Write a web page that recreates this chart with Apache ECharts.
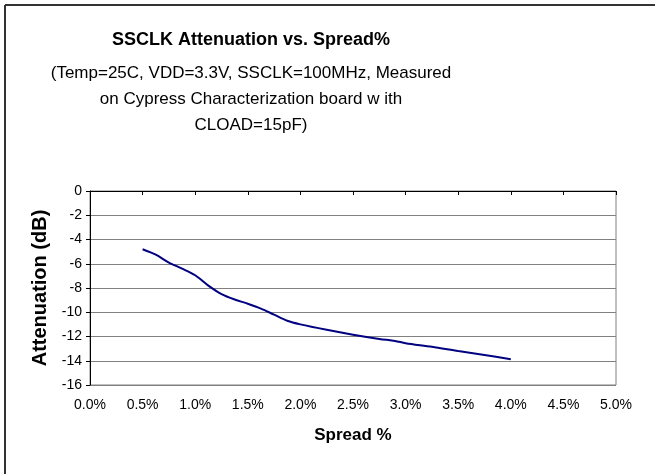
<!DOCTYPE html>
<html>
<head>
<meta charset="utf-8">
<script src="https://cdn.jsdelivr.net/npm/echarts@6/dist/echarts.min.js"></script>
<style>
html,body{margin:0;padding:0;background:#fff;}
#c{width:655px;height:474px;}
</style>
</head>
<body>
<div id="c"></div>
<script>
const titleText = 'SSCLK Attenuation vs. Spread%';
const subtitleLines = [
  '(Temp=25C, VDD=3.3V, SSCLK=100MHz, Measured',
  'on Cypress Characterization board w ith',
  'CLOAD=15pF)'
];
const xAxisName = 'Spread %';
const yAxisName = 'Attenuation (dB)';
const spread = [0.5, 0.625, 0.75, 0.875, 1.0, 1.125, 1.25, 1.375, 1.5, 1.625, 1.75, 1.875, 2.0, 2.25, 2.5, 2.75, 2.9, 3.0, 3.25, 3.5, 3.75, 4.0];
const attenuation = [-4.8, -5.25, -5.9, -6.4, -6.95, -7.8, -8.5, -8.95, -9.3, -9.7, -10.2, -10.7, -11.0, -11.45, -11.85, -12.2, -12.37, -12.55, -12.85, -13.2, -13.53, -13.87];

const chart = echarts.init(document.getElementById('c'));
const font = 'Liberation Sans, Arial, sans-serif';
const graphics = [
  {type:'line', shape:{x1:5, y1:5, x2:655, y2:5}, style:{stroke:'#333', lineWidth:2}},
  {type:'line', shape:{x1:5, y1:5, x2:5, y2:474}, style:{stroke:'#333', lineWidth:2}},
  {type:'text', x:251, y:40, style:{text:titleText, font:'bold 18px ' + font, fill:'#000', textAlign:'center', textVerticalAlign:'middle'}}
];
subtitleLines.forEach(function(t, i){
  graphics.push({type:'text', x:251, y:73 + i*26, style:{text:t, font:'17px ' + font, fill:'#000', textAlign:'center', textVerticalAlign:'middle'}});
});

chart.setOption({
  animation:false,
  backgroundColor:'#fff',
  graphic: graphics,
  grid:{left:90, top:191, width:526, height:194, show:true, borderColor:'#808080', borderWidth:1, backgroundColor:'transparent'},
  xAxis:[{
    type:'value', min:0, max:5, interval:0.5, position:'bottom',
    axisLine:{show:false}, axisTick:{show:false}, splitLine:{show:false},
    axisLabel:{formatter:function(v){return v.toFixed(1)+'%';}, color:'#000', fontSize:14, fontFamily:font, margin:13},
    name:xAxisName, nameLocation:'middle', nameGap:42,
    nameTextStyle:{fontWeight:'bold', fontSize:17, color:'#000', fontFamily:font}
  },{
    type:'value', min:0, max:5, interval:0.5, position:'top',
    axisLine:{show:true, lineStyle:{color:'#000', width:1}},
    axisTick:{show:true, inside:true, length:4, lineStyle:{color:'#000'}},
    axisLabel:{show:false}, splitLine:{show:false}
  }],
  yAxis:{
    type:'value', min:-16, max:0, interval:2,
    axisLine:{show:true, lineStyle:{color:'#000', width:1}},
    axisTick:{show:true, length:4, lineStyle:{color:'#000'}},
    axisLabel:{color:'#000', fontSize:14, fontFamily:font, margin:8},
    splitLine:{show:true, lineStyle:{color:'#808080', width:1}},
    name:yAxisName, nameLocation:'middle', nameGap:40, nameRotate:90,
    nameTextStyle:{fontWeight:'bold', fontSize:20, color:'#000', fontFamily:font}
  },
  series:[{
    type:'line', xAxisIndex:0,
    data: spread.map(function(x,i){return [x, attenuation[i]];}),
    showSymbol:false, smooth:0.3,
    lineStyle:{color:'#000080', width:2}
  }]
});
</script>
</body>
</html>
